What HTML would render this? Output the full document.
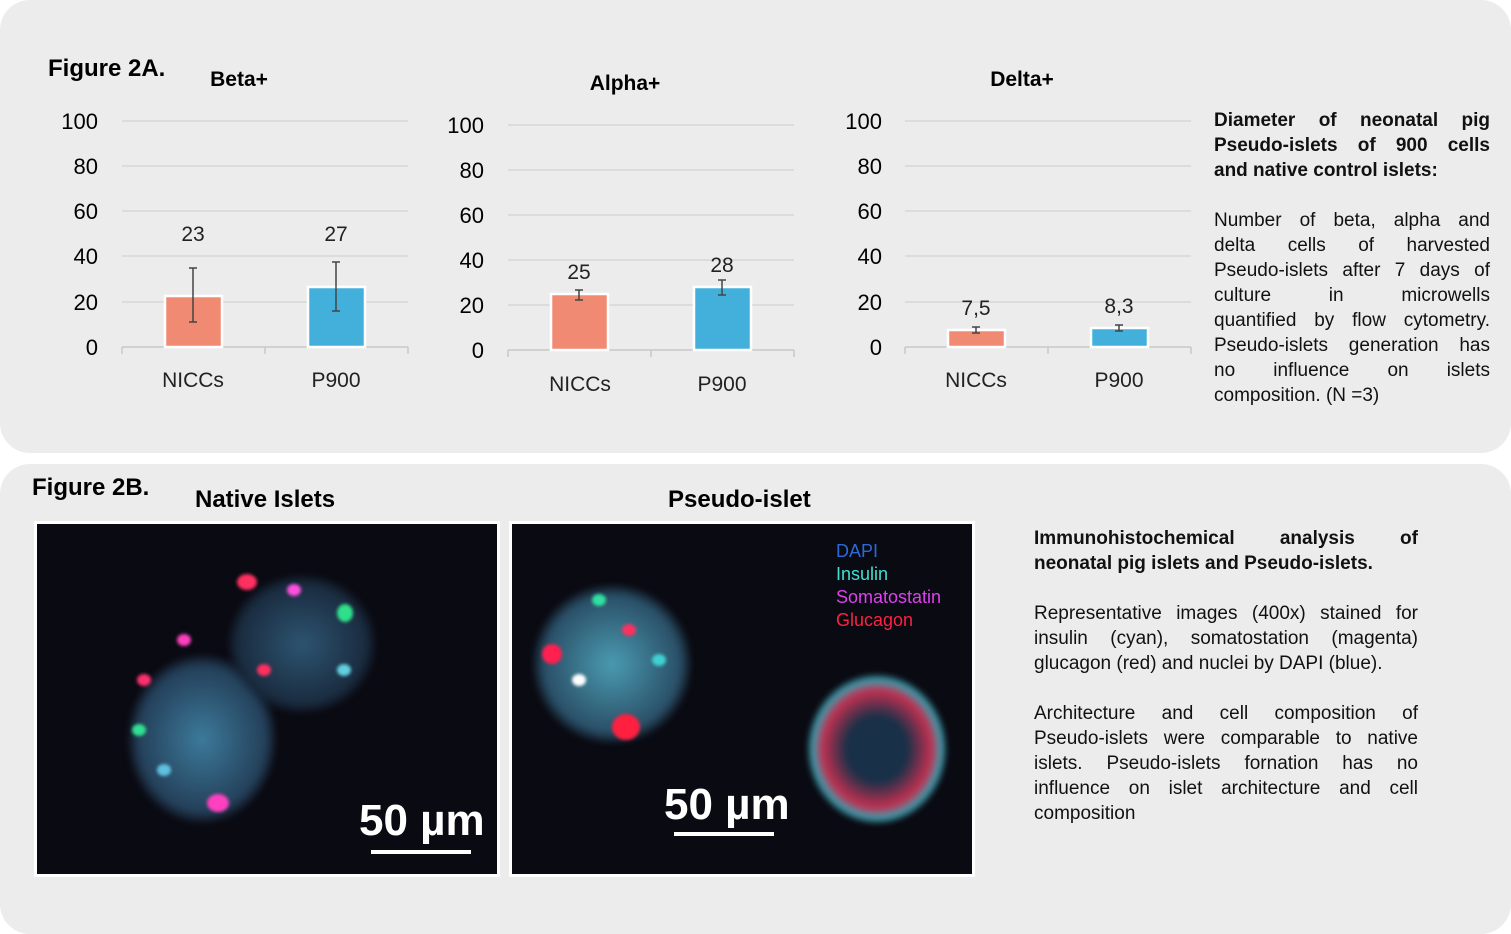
<!DOCTYPE html><html><head><style>
body{margin:0;width:1511px;height:918px;background:#fff;position:relative;overflow:hidden;font-family:"Liberation Sans",sans-serif;}
.p{position:absolute;background:#ececec;border-radius:30px;}
.t{position:absolute;white-space:nowrap;}
.j{position:absolute;font-size:19px;line-height:25px;color:#111;}
.j div{text-align:justify;text-align-last:justify;white-space:nowrap;}
.j div.l{text-align-last:left;}
.img{position:absolute;background:#0a0a12;border:3px solid #fff;overflow:hidden;}
.b{position:absolute;border-radius:50%;filter:blur(3px);}
.c{position:absolute;border-radius:50%;width:14px;height:12px;filter:blur(1.5px);}
</style></head><body>
<div class="p" style="left:0;top:0;width:1511px;height:453px"></div>
<div class="p" style="left:0;top:464px;width:1511px;height:470px"></div>

<svg style="position:absolute;left:0;top:0" width="1511" height="460" font-family="Liberation Sans, sans-serif">
<g font-size="22" fill="#000" text-anchor="end">
<text x="98" y="129">100</text><text x="98" y="174">80</text><text x="98" y="219">60</text><text x="98" y="264">40</text><text x="98" y="310">20</text><text x="98" y="355">0</text>
<text x="484" y="133">100</text><text x="484" y="178">80</text><text x="484" y="223">60</text><text x="484" y="268">40</text><text x="484" y="313">20</text><text x="484" y="358">0</text>
<text x="882" y="129">100</text><text x="882" y="174">80</text><text x="882" y="219">60</text><text x="882" y="264">40</text><text x="882" y="310">20</text><text x="882" y="355">0</text>
</g>
<g stroke="#d6d6d6" stroke-width="1.5">
<line x1="122" x2="408" y1="121" y2="121"/><line x1="122" x2="408" y1="166" y2="166"/><line x1="122" x2="408" y1="211" y2="211"/><line x1="122" x2="408" y1="256" y2="256"/><line x1="122" x2="408" y1="302" y2="302"/>
<line x1="508" x2="794" y1="125" y2="125"/><line x1="508" x2="794" y1="170" y2="170"/><line x1="508" x2="794" y1="215" y2="215"/><line x1="508" x2="794" y1="260" y2="260"/><line x1="508" x2="794" y1="305" y2="305"/>
<line x1="905" x2="1191" y1="121" y2="121"/><line x1="905" x2="1191" y1="166" y2="166"/><line x1="905" x2="1191" y1="211" y2="211"/><line x1="905" x2="1191" y1="256" y2="256"/><line x1="905" x2="1191" y1="302" y2="302"/>
</g>
<g stroke="#c8c8c8" stroke-width="1.5">
<line x1="122" x2="408" y1="347" y2="347"/><line x1="122" x2="122" y1="347" y2="354"/><line x1="265" x2="265" y1="347" y2="354"/><line x1="408" x2="408" y1="347" y2="354"/>
<line x1="508" x2="794" y1="350" y2="350"/><line x1="508" x2="508" y1="350" y2="357"/><line x1="651" x2="651" y1="350" y2="357"/><line x1="794" x2="794" y1="350" y2="357"/>
<line x1="905" x2="1191" y1="347" y2="347"/><line x1="905" x2="905" y1="347" y2="354"/><line x1="1048" x2="1048" y1="347" y2="354"/><line x1="1191" x2="1191" y1="347" y2="354"/>
</g>
<g stroke="#fff" stroke-width="2.5">
<rect x="165" y="296" width="57" height="51" fill="#f08a72"/><rect x="308" y="287" width="57" height="60" fill="#43b0dc"/>
<rect x="551" y="294" width="57" height="56" fill="#f08a72"/><rect x="694" y="287" width="57" height="63" fill="#43b0dc"/>
<rect x="948" y="330" width="57" height="17" fill="#f08a72"/><rect x="1091" y="328" width="57" height="19" fill="#43b0dc"/>
</g>
<g stroke="#444" stroke-width="1.5">
<line x1="193" x2="193" y1="268" y2="322"/><line x1="189" x2="197" y1="268" y2="268"/><line x1="189" x2="197" y1="322" y2="322"/>
<line x1="336" x2="336" y1="262" y2="311"/><line x1="332" x2="340" y1="262" y2="262"/><line x1="332" x2="340" y1="311" y2="311"/>
<line x1="579" x2="579" y1="290" y2="300"/><line x1="575" x2="583" y1="290" y2="290"/><line x1="575" x2="583" y1="300" y2="300"/>
<line x1="722" x2="722" y1="280" y2="295"/><line x1="718" x2="726" y1="280" y2="280"/><line x1="718" x2="726" y1="295" y2="295"/>
<line x1="976" x2="976" y1="327" y2="333"/><line x1="972" x2="980" y1="327" y2="327"/><line x1="972" x2="980" y1="333" y2="333"/>
<line x1="1119" x2="1119" y1="325" y2="331"/><line x1="1115" x2="1123" y1="325" y2="325"/><line x1="1115" x2="1123" y1="331" y2="331"/>
</g>
<g font-size="21" text-anchor="middle" fill="#222">
<text x="193" y="241">23</text><text x="336" y="241">27</text><text x="579" y="279">25</text><text x="722" y="272">28</text><text x="976" y="315">7,5</text><text x="1119" y="313">8,3</text>
<text x="193" y="387">NICCs</text><text x="336" y="387">P900</text><text x="580" y="391">NICCs</text><text x="722" y="391">P900</text><text x="976" y="387">NICCs</text><text x="1119" y="387">P900</text>
</g>
<g font-size="21" font-weight="bold" text-anchor="middle">
<text x="239" y="86">Beta+</text><text x="625" y="90">Alpha+</text><text x="1022" y="86">Delta+</text>
</g>
<text x="48" y="76" font-size="24" font-weight="bold">Figure 2A.</text>
</svg>

<div class="j" style="left:1214px;top:108px;width:276px;font-weight:bold">
<div>Diameter of neonatal pig</div><div>Pseudo-islets of 900 cells</div><div class="l">and native control islets:</div></div>
<div class="j" style="left:1214px;top:208px;width:276px">
<div>Number of beta, alpha and</div><div>delta cells of harvested</div><div>Pseudo-islets after 7 days of</div><div>culture in microwells</div><div>quantified by flow cytometry.</div><div>Pseudo-islets generation has</div><div>no influence on islets</div><div class="l">composition. (N =3)</div></div>

<div class="t" style="left:32px;top:474px;font-size:24px;font-weight:bold">Figure 2B.</div>
<div class="t" style="left:195px;top:486px;font-size:24px;font-weight:bold">Native Islets</div>
<div class="t" style="left:668px;top:486px;font-size:24px;font-weight:bold">Pseudo-islet</div>

<div class="img" style="left:34px;top:521px;width:460px;height:350px">
<div class="b" style="left:90px;top:130px;width:150px;height:170px;background:radial-gradient(#3c7a9a,#24405a 60%,transparent 72%)"></div>
<div class="b" style="left:190px;top:50px;width:150px;height:140px;background:radial-gradient(#2d5470,#1a2c40 60%,transparent 72%)"></div>
<div class="c" style="left:300px;top:80px;width:16px;height:18px;background:#2fe08a"></div>
<div class="c" style="left:200px;top:50px;width:20px;height:16px;background:#ff3060"></div>
<div class="c" style="left:170px;top:270px;width:22px;height:18px;background:#ff40c0"></div>
<div class="c" style="left:100px;top:150px;background:#ff3070"></div>
<div class="c" style="left:95px;top:200px;background:#30e090"></div>
<div class="c" style="left:140px;top:110px;background:#ff40c0"></div>
<div class="c" style="left:220px;top:140px;background:#ff3060"></div>
<div class="c" style="left:300px;top:140px;background:#60d0e0"></div>
<div class="c" style="left:250px;top:60px;background:#ff50e0"></div>
<div class="c" style="left:120px;top:240px;background:#60c0e0"></div>
<div class="t" style="left:322px;top:272px;font-size:44px;font-weight:bold;color:#fff">50 µm</div>
<div style="position:absolute;left:334px;top:326px;width:100px;height:4px;background:#fff"></div>
</div>

<div class="img" style="left:509px;top:521px;width:460px;height:350px">
<div class="b" style="left:20px;top:60px;width:160px;height:160px;background:radial-gradient(#4a9ab0,#2a5068 60%,transparent 72%)"></div>
<div class="b" style="left:295px;top:150px;width:140px;height:150px;background:radial-gradient(#183048 30%,#c03050 55%,#40a0b0 65%,transparent 72%)"></div>
<div class="c" style="left:100px;top:190px;width:28px;height:26px;background:#ff2040"></div>
<div class="c" style="left:30px;top:120px;width:20px;height:20px;background:#ff2050"></div>
<div class="c" style="left:80px;top:70px;background:#30e0a0"></div>
<div class="c" style="left:60px;top:150px;background:#ffffff"></div>
<div class="c" style="left:140px;top:130px;background:#40d0d0"></div>
<div class="c" style="left:110px;top:100px;background:#ff3060"></div>
<div class="t" style="left:324px;top:16px;font-size:18px;line-height:23px;color:#2a6ad8">DAPI<br><span style="color:#40e0d0">Insulin</span><br><span style="color:#e040f0">Somatostatin</span><br><span style="color:#ff2040">Glucagon</span></div>
<div class="t" style="left:152px;top:256px;font-size:44px;font-weight:bold;color:#fff">50 µm</div>
<div style="position:absolute;left:162px;top:308px;width:100px;height:4px;background:#fff"></div>
</div>

<div class="j" style="left:1034px;top:526px;width:384px;font-weight:bold">
<div>Immunohistochemical analysis of</div><div class="l">neonatal pig islets and Pseudo-islets.</div></div>
<div class="j" style="left:1034px;top:601px;width:384px">
<div>Representative images (400x) stained for</div><div>insulin (cyan), somatostation (magenta)</div><div class="l">glucagon (red) and nuclei by DAPI (blue).</div></div>
<div class="j" style="left:1034px;top:701px;width:384px">
<div>Architecture and cell composition of</div><div>Pseudo-islets were comparable to native</div><div>islets. Pseudo-islets fornation has no</div><div>influence on islet architecture and cell</div><div class="l">composition</div></div>
</body></html>
